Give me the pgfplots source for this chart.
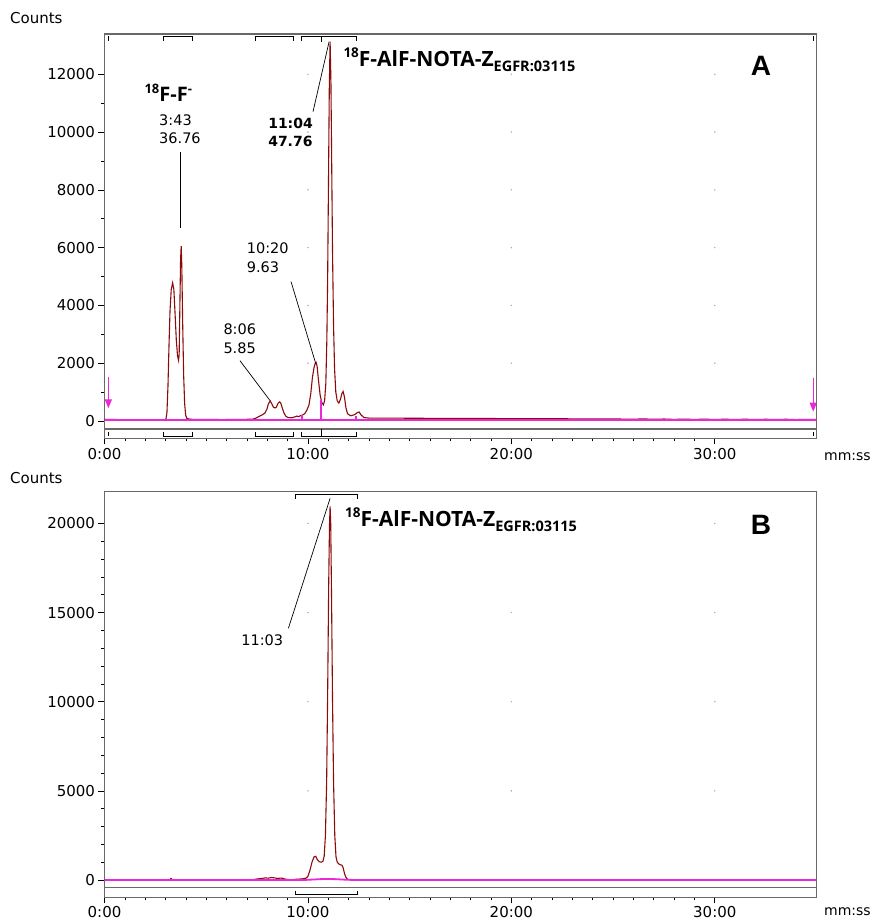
\documentclass[border=0pt]{standalone}
\usepackage{pgfplots}
\pgfplotsset{compat=1.18}
\usetikzlibrary{arrows.meta}
\usepackage{fontspec}
\setmainfont{DejaVu Sans}
\newfontfamily\osans{Open Sans}
\newfontfamily\libsans{Liberation Sans}
\definecolor{dred}{RGB}{139,10,10}
\definecolor{mag}{RGB}{235,40,215}
\definecolor{griddot}{RGB}{165,165,235}
\definecolor{frame}{RGB}{105,105,105}

\newcommand{\tl}[1]{{\fontsize{15bp}{16bp}\selectfont #1}}
\newcommand{\compound}{{\osans\bfseries\fontsize{21bp}{24bp}\selectfont\raisebox{0.42em}{\fontsize{13.5bp}{14bp}\selectfont 18}F-AlF-NOTA-Z\raisebox{-0.22em}{\fontsize{14.5bp}{15bp}\selectfont EGFR:03115}}}
\newcommand{\fluoride}{{\osans\bfseries\fontsize{20bp}{24bp}\selectfont\raisebox{0.42em}{\fontsize{13bp}{14bp}\selectfont 18}F-F\raisebox{0.42em}{\fontsize{13bp}{14bp}\selectfont -}}}

\pgfplotsset{
  chrom/.style={
    scale only axis, width=712bp, xmin=0, xmax=35,
    axis line style={draw=frame, line width=1.2bp},
    tick align=outside, xtick pos=bottom, ytick pos=left,
    xtick={0,10,20,30}, xticklabels={\tl{0:00},\tl{10:00},\tl{20:00},\tl{30:00}},
    minor x tick num=9,
    major tick length=6bp, minor tick length=3bp,
    tick style={black, line width=0.6bp},
    /pgf/number format/assume math mode=true,
    /pgf/number format/1000 sep={},
    scaled y ticks=false,
    clip=true,
  }
}

\begin{document}
\begin{tikzpicture}
\useasboundingbox (0,0) rectangle (872bp,922bp);

% ---------------- Panel A ----------------
\begin{axis}[chrom, at={(104.5bp,483.5bp)}, anchor=south west, height=404.5bp,
  ymin=-606, ymax=13394, ytick={0,2000,4000,6000,8000,10000,12000},
  yticklabels={\tl{0},\tl{2000},\tl{4000},\tl{6000},\tl{8000},\tl{10000},\tl{12000}}, minor y tick num=1]
\addplot[only marks, mark=*, mark size=0.5bp, griddot] coordinates {
(10,2000)(10,4000)(10,6000)(10,8000)(10,10000)(10,12000)
(20,2000)(20,4000)(20,6000)(20,8000)(20,10000)(20,12000)
(30,2000)(30,4000)(30,6000)(30,8000)(30,10000)(30,12000)};
\addplot[dred, line width=1.1bp] coordinates {
(0,50)(0.5,50)(1,48)(1.5,46)(2,45)(2.5,45)(2.95,45)(3.02,60)(3.07,300)(3.12,1200)(3.17,2600)(3.22,3800)(3.28,4550)(3.35,4780)(3.41,4550)(3.47,3700)(3.53,2800)(3.59,2250)(3.64,2100)(3.67,2300)(3.71,4200)(3.74,5600)(3.77,6050)(3.8,5400)(3.84,3500)(3.89,1600)(3.94,600)(3.99,200)(4.05,90)(4.2,60)(4.5,55)(5,55)(5.5,52)(5.9,45)(6,55)(6.5,55)(7,58)(7.3,65)(7.45,100)(7.6,160)(7.75,210)(7.88,270)(7.98,400)(8.06,600)(8.15,690)(8.22,600)(8.3,480)(8.38,450)(8.45,480)(8.53,610)(8.6,660)(8.66,630)(8.73,470)(8.82,280)(8.92,160)(9.02,120)(9.2,110)(9.35,140)(9.45,170)(9.55,150)(9.65,190)(9.75,210)(9.85,260)(9.95,380)(10.05,550)(10.14,950)(10.22,1500)(10.3,1850)(10.36,2000)(10.4,2030)(10.45,1900)(10.52,1400)(10.6,900)(10.68,640)(10.76,560)(10.82,700)(10.88,1300)(10.93,2800)(10.97,5000)(11.01,8200)(11.05,11500)(11.09,13130)(11.13,11800)(11.17,8800)(11.21,5800)(11.26,3300)(11.31,1800)(11.37,1000)(11.44,700)(11.52,620)(11.6,750)(11.67,950)(11.73,1020)(11.79,850)(11.87,450)(11.95,250)(12.1,180)(12.3,220)(12.45,300)(12.52,310)(12.6,220)(12.75,120)(13,100)(14,100)(15,95)(16,92)(18,88)(20,82)(22,78)(24,72)(25,70)(26,62)(26.5,72)(27,58)(27.5,68)(28,55)(28.5,65)(29,54)(29.5,64)(30,52)(30.5,62)(31,52)(31.5,62)(32,50)(32.5,60)(33,50)(33.5,60)(34,48)(34.5,58)(35,50)};
\addplot[mag, line width=1.6bp] coordinates {
(0,25)(9.7,25)(9.7,180)(9.72,180)(9.72,25)(10.63,25)(10.63,700)(10.65,700)(10.65,25)(12.36,25)(12.36,150)(12.38,150)(12.38,25)(35,25)};
% arrows
\draw[mag, line width=1.4bp, -{Triangle[length=9bp,width=7bp]}] (axis cs:0.19,1533) -- (axis cs:0.19,440);
\draw[mag, line width=1.4bp, -{Triangle[length=9bp,width=7bp]}] (axis cs:34.84,1500) -- (axis cs:34.84,320);
% separator
\draw[frame, line width=1.2bp] (axis cs:0,-277) -- (axis cs:35,-277);
% brackets top
\begin{scope}[black, line width=0.8bp]
\draw (axis cs:0.19,13318) -- (axis cs:0.19,13150);
\draw (axis cs:34.87,13318) -- (axis cs:34.87,13150);
\draw (axis cs:2.89,13150) -- (axis cs:2.89,13318) -- (axis cs:4.32,13318) -- (axis cs:4.32,13150);
\draw (axis cs:7.40,13150) -- (axis cs:7.40,13318) -- (axis cs:9.30,13318) -- (axis cs:9.30,13150);
\draw (axis cs:9.70,13150) -- (axis cs:9.70,13318) -- (axis cs:12.36,13318) -- (axis cs:12.36,13150);
\draw (axis cs:10.64,13318) -- (axis cs:10.64,13100);
% brackets bottom
\draw (axis cs:0.19,-381) -- (axis cs:0.19,-519);
\draw (axis cs:34.87,-381) -- (axis cs:34.87,-519);
\draw (axis cs:2.89,-381) -- (axis cs:2.89,-519) -- (axis cs:4.32,-519) -- (axis cs:4.32,-381);
\draw (axis cs:7.40,-381) -- (axis cs:7.40,-519) -- (axis cs:9.30,-519) -- (axis cs:9.30,-381);
\draw (axis cs:9.70,-381) -- (axis cs:9.70,-519) -- (axis cs:12.36,-519) -- (axis cs:12.36,-381);
\draw (axis cs:10.64,-519) -- (axis cs:10.64,-290);
\end{scope}
% leader lines
\begin{scope}[black, line width=0.7bp]
\draw (axis cs:3.71,9320) -- (axis cs:3.71,6680);
\draw (axis cs:10.25,10705) -- (axis cs:11.04,13128);
\draw (axis cs:6.66,2087) -- (axis cs:8.14,703);
\draw (axis cs:9.17,4821) -- (axis cs:10.38,1997);
\end{scope}
% labels
\node[anchor=base west, inner sep=0] at (axis cs:1.96,11051) {\fluoride};
\node[anchor=west, inner sep=0, align=left, font=\fontsize{14.5bp}{18.5bp}\selectfont] at (axis cs:2.68,10092) {3:43\\36.76};
\node[anchor=west, inner sep=0, align=left, font=\bfseries\fontsize{14bp}{18bp}\selectfont] at (axis cs:8.04,9985) {11:04\\47.76};
\node[anchor=west, inner sep=0, align=left, font=\fontsize{14.5bp}{18.5bp}\selectfont] at (axis cs:5.84,2852) {8:06\\5.85};
\node[anchor=west, inner sep=0, align=left, font=\fontsize{14.5bp}{18.5bp}\selectfont] at (axis cs:6.99,5648) {10:20\\9.63};
\node[anchor=base west, inner sep=0] at (axis cs:11.74,12265) {\compound};
\node[inner sep=0, font=\libsans\bfseries\fontsize{28bp}{30bp}\selectfont] at (axis cs:32.27,12287) {A};
\end{axis}

% ---------------- Panel B ----------------
\begin{axis}[chrom, at={(104.5bp,24.7bp)}, anchor=south west, height=405.6bp,
  ymin=-970, ymax=21780, ytick={0,5000,10000,15000,20000},
  yticklabels={\tl{0},\tl{5000},\tl{10000},\tl{15000},\tl{20000}}, minor y tick num=4]
\addplot[only marks, mark=*, mark size=0.5bp, griddot] coordinates {
(10,5000)(10,10000)(10,15000)(10,20000)
(20,5000)(20,10000)(20,15000)(20,20000)
(30,5000)(30,10000)(30,15000)(30,20000)};
\addplot[dred, line width=1.1bp] coordinates {
(0,15)(3.2,15)(3.27,90)(3.34,15)(7.3,20)(7.5,60)(7.7,80)(7.9,120)(8.05,100)(8.2,140)(8.35,120)(8.5,90)(8.7,110)(8.85,60)(9.0,30)(9.2,10)(9.4,40)(9.7,60)(9.9,100)(10.0,200)(10.1,550)(10.2,1000)(10.3,1300)(10.38,1330)(10.46,1150)(10.56,1020)(10.66,1000)(10.74,1060)(10.8,1350)(10.86,2500)(10.92,5500)(10.97,10500)(11.02,16500)(11.06,19900)(11.09,20950)(11.12,20000)(11.16,16000)(11.21,10000)(11.26,5500)(11.32,2500)(11.38,1300)(11.44,1000)(11.52,900)(11.6,850)(11.67,830)(11.73,700)(11.8,350)(11.87,150)(11.94,50)(12.0,20)(12.3,12)(35,12)};
\addplot[mag, line width=1.8bp] coordinates {
(0,0)(9.8,0)(10.3,30)(10.8,60)(11.3,50)(11.8,20)(12.3,0)(35,0)};
\draw[frame, line width=1.2bp] (axis cs:0,-432) -- (axis cs:35,-432);
\begin{scope}[black, line width=0.8bp]
\draw (axis cs:9.37,21370) -- (axis cs:9.37,21650) -- (axis cs:12.43,21650) -- (axis cs:12.43,21370);
\draw (axis cs:9.37,-600) -- (axis cs:9.37,-785) -- (axis cs:12.43,-785) -- (axis cs:12.43,-600);
\end{scope}
\draw[black, line width=0.7bp] (axis cs:9.04,14118) -- (axis cs:11.09,21410);
\node[anchor=east, inner sep=0, font=\fontsize{14.5bp}{18bp}\selectfont] at (axis cs:8.79,13462) {11:03};
\node[anchor=base west, inner sep=0] at (axis cs:11.82,19817) {\compound};
\node[inner sep=0, font=\libsans\bfseries\fontsize{28bp}{30bp}\selectfont] at (axis cs:32.27,19912) {B};
\end{axis}

% outside labels
\begin{scope}[font=\fontsize{14bp}{16bp}\selectfont]
\node[anchor=west, inner sep=0, font=\fontsize{15bp}{16bp}\selectfont] at (10bp,904bp) {Counts};
\node[anchor=west, inner sep=0, font=\fontsize{15bp}{16bp}\selectfont] at (10bp,444bp) {Counts};
\node[anchor=west, inner sep=0] at (824bp,465bp) {mm:ss};
\node[anchor=west, inner sep=0] at (824bp,10bp) {mm:ss};
\end{scope}
\end{tikzpicture}
\end{document}
